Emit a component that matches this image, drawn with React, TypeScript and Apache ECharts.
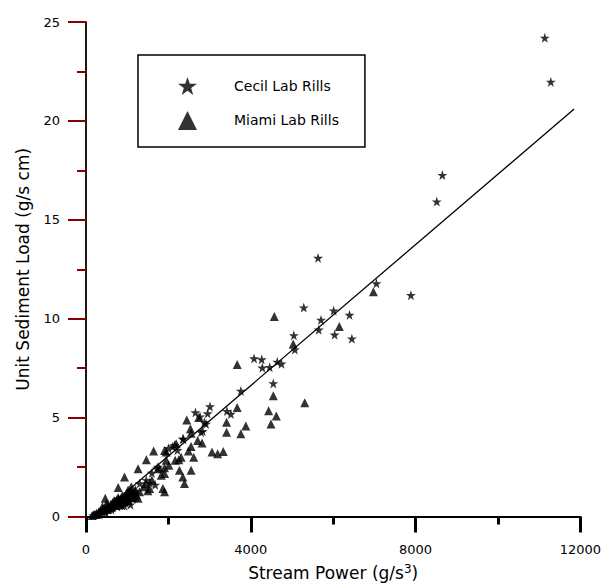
import React, { useEffect, useRef } from "react";
import * as echarts from "echarts";

// Cecil Lab Rills (stars): stream power (g/s^3), unit sediment load (g/s cm)
const cecilX = [
  11137, 11283, 8651, 8515, 5633, 7050, 7887,
  5287, 6012, 5705, 6398, 5650, 6036, 6454,
  5046, 5070, 4080, 4265, 4281, 4459, 4643, 4746, 4547, 3759,
  3517, 3421, 3010, 2953, 2656, 2769, 2873, 2914, 2833, 2793, 2350, 2366,
  2108, 2000, 2150, 2220, 1746, 1721, 1600, 1465, 1304, 1550, 1680,
  1100, 1000, 900, 820, 700, 600, 500, 400, 300, 250, 1050, 950, 850,
  1150, 1200, 980, 880, 760, 650, 560, 450, 350, 1080, 930, 790,
  180, 330, 480, 620, 740, 860, 1010, 1130,
];
const cecilY = [
  24.2, 21.97, 17.26, 15.92, 13.07, 11.78, 11.19,
  10.56, 10.41, 9.94, 10.19, 9.44, 9.19, 8.99,
  9.16, 8.44, 7.99, 7.94, 7.52, 7.55, 7.82, 7.72, 6.73, 6.35,
  5.18, 5.33, 5.56, 5.21, 5.26, 5.05, 4.76, 4.68, 4.31, 4.26, 3.92, 3.92,
  3.54, 3.45, 3.6, 3.35, 2.5, 2.42, 2.2, 1.84, 1.67, 1.7, 1.6,
  1.3, 1.05, 0.95, 0.8, 0.75, 0.6, 0.5, 0.35, 0.2, 0.15, 0.8, 0.7, 0.65,
  1.1, 1.25, 0.85, 0.55, 0.5, 0.45, 0.4, 0.25, 0.25, 0.6, 0.55, 0.9,
  0.05, 0.1, 0.2, 0.35, 0.65, 0.75, 1.15, 0.9,
];

// Miami Lab Rills (triangles)
const miamiX = [
  6977, 6149, 5311, 4571, 5030, 3670, 4547, 4434, 4620, 4491, 3670, 3879, 3759, 3412, 3412,
  2446, 2535, 2551, 2712, 2817, 3058, 3195, 3332, 2736,
  2487, 2615, 2551, 2190, 1948, 1907, 2310, 2253, 2165, 2269, 2551, 2350, 2390,
  1642, 1465, 1264, 934, 781, 467, 2012, 1907, 1787, 1907, 1827, 1866, 1907, 1545, 1224, 1264, 1022, 1948,
  150, 200, 350, 450, 550, 650, 750, 850, 950, 1050, 1150, 600, 700, 800, 900, 1000, 500, 400,
  1100, 1200, 1400, 1450, 1600, 1500,
  250, 300, 420, 520, 620, 720, 820, 920, 1020, 1120, 680, 780, 880, 980, 1080, 1180, 1300,
];
const miamiY = [
  11.36, 9.61, 5.75, 10.11, 8.72, 7.68, 6.1, 5.35, 5.08, 4.68, 5.51, 4.58, 4.18, 4.76, 4.26,
  4.88, 4.43, 4.21, 3.84, 3.71, 3.26, 3.17, 3.29, 5.01,
  3.31, 3.0, 3.54, 3.68, 3.26, 3.34, 3.0, 2.87, 2.84, 2.34, 2.34, 2.0, 1.67,
  3.31, 2.87, 2.41, 2.0, 1.47, 0.92, 2.59, 2.47, 2.42, 2.17, 2.09, 1.42, 1.25, 1.42, 1.09, 0.92, 1.34, 2.84,
  0.05, 0.1, 0.3, 0.4, 0.55, 0.7, 0.85, 0.9, 1.0, 1.1, 1.2, 0.45, 0.6, 0.7, 0.8, 0.9, 0.65, 0.5,
  1.5, 1.35, 1.5, 1.65, 1.85, 1.3,
  0.1, 0.15, 0.3, 0.35, 0.5, 0.55, 0.6, 0.75, 0.8, 0.95, 0.8, 0.95, 1.05, 1.15, 1.2, 1.0, 1.25,
];

// Fitted regression line end points
const fitX = [281, 11850];
const fitY = [0, 20.6];

const xTicks = { min: 0, max: 12000, interval: 4000 };
const yTicks = { min: 0, max: 25, interval: 5 };

const STAR =
  "path://M50,0 L61.8,35.1 L98.6,35.1 L68.8,56.9 L79.4,91.9 L50,70 L20.6,91.9 L31.2,56.9 L1.4,35.1 L38.2,35.1 Z";

const FONT = "DejaVu Sans";
const INK = "#000000";

export default function App() {
  const ref = useRef<HTMLDivElement>(null);
  useEffect(() => {
    if (!ref.current) return;
    const chart = echarts.init(ref.current, null, { renderer: "svg" });
    chart.setOption({
      animation: false,
      backgroundColor: "#fff",
      grid: { left: 86, right: 21, top: 22, bottom: 66 },
      legend: {
        orient: "vertical",
        left: 138,
        top: 55,
        padding: [22, 26, 17, 40],
        itemWidth: 19,
        itemHeight: 19,
        itemGap: 16,
        borderColor: INK,
        borderWidth: 1.5,
        textStyle: { fontFamily: FONT, fontSize: 14, color: INK, padding: [0, 0, 0, 32] },
        data: [
          { name: "Cecil Lab Rills", icon: STAR },
          { name: "Miami Lab Rills", icon: "triangle" },
        ],
      },
      xAxis: {
        type: "value",
        min: xTicks.min,
        max: xTicks.max,
        interval: xTicks.interval,
        splitLine: { show: false },
        axisLine: { show: true, lineStyle: { color: INK, width: 1.8 } },
        axisTick: { show: true, length: 16, lineStyle: { color: "#000000", width: 3 } },
        minorTick: { show: true, splitNumber: 2, length: 8, lineStyle: { color: "#000000", width: 3 } },
        axisLabel: {
          margin: 26,
          fontFamily: FONT,
          fontSize: 13,
          color: INK,
          formatter: (v: number) => String(v),
        },
        name: "{a|Stream Power (g/s}{s|3}{a|)}",
        nameLocation: "middle",
        nameGap: 46,
        nameTextStyle: {
          rich: {
            a: { fontFamily: FONT, fontSize: 17, color: INK, lineHeight: 20 },
            s: { fontFamily: FONT, fontSize: 12, color: INK, verticalAlign: "top", lineHeight: 12 },
          },
        },
      },
      yAxis: {
        type: "value",
        min: yTicks.min,
        max: yTicks.max,
        interval: yTicks.interval,
        splitLine: { show: false },
        axisLine: { show: true, lineStyle: { color: INK, width: 1.8 } },
        axisTick: { show: true, length: 18, lineStyle: { color: "#880000", width: 2 } },
        minorTick: { show: true, splitNumber: 2, length: 9, lineStyle: { color: "#880000", width: 2 } },
        axisLabel: { margin: 26, fontFamily: FONT, fontSize: 13, color: INK },
        name: "Unit Sediment Load (g/s cm)",
        nameLocation: "middle",
        nameGap: 55,
        nameTextStyle: { fontFamily: FONT, fontSize: 17, color: INK },
      },
      series: [
        {
          name: "Cecil Lab Rills",
          type: "scatter",
          symbol: STAR,
          symbolSize: 10,
          itemStyle: { color: INK },
          data: cecilX.map((x, i) => [x, cecilY[i]]),
          z: 3,
        },
        {
          name: "Miami Lab Rills",
          type: "scatter",
          symbol: "triangle",
          symbolSize: 9,
          itemStyle: { color: INK },
          data: miamiX.map((x, i) => [x, miamiY[i]]),
          z: 3,
        },
        {
          name: "fit",
          type: "line",
          showSymbol: false,
          symbol: "none",
          lineStyle: { color: INK, width: 1.3 },
          data: fitX.map((x, i) => [x, fitY[i]]),
          z: 2,
        },
      ],
    });
    return () => chart.dispose();
  }, []);
  return (
    <div
      ref={ref}
      style={{ position: "fixed", left: 0, top: 0, width: 604, height: 586, background: "#fff" }}
    />
  );
}
